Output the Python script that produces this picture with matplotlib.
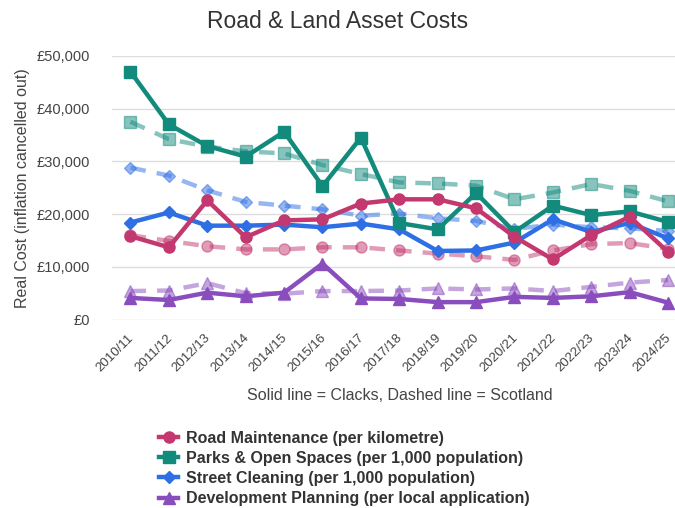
import matplotlib
matplotlib.use("Agg")
import matplotlib.pyplot as plt
from matplotlib.ticker import FuncFormatter
from matplotlib.lines import Line2D
from matplotlib.transforms import ScaledTranslation

plt.rcParams['font.family'] = ['Liberation Sans', 'DejaVu Sans']

years = ["2010/11", "2011/12", "2012/13", "2013/14", "2014/15", "2015/16", "2016/17",
         "2017/18", "2018/19", "2019/20", "2020/21", "2021/22", "2022/23", "2023/24", "2024/25"]

road_clacks = [15800, 13700, 22600, 15600, 18800, 19000, 22000, 22800, 22800, 21100, 15700, 11400, 16000, 19500, 12800]
road_scot = [16000, 14900, 13900, 13300, 13300, 13700, 13700, 13100, 12500, 12000, 11300, 13100, 14300, 14500, 13400]

parks_clacks = [47000, 37000, 32900, 30900, 35600, 25300, 34500, 18300, 17100, 24000, 16600, 21600, 19800, 20500, 18500]
parks_scot = [37500, 34200, 32800, 31900, 31500, 29300, 27600, 26000, 25800, 25400, 22800, 24100, 25700, 24400, 22400]

street_clacks = [18400, 20300, 17800, 17800, 18000, 17500, 18200, 17100, 13000, 13100, 14600, 19000, 16600, 18300, 15400]
street_scot = [28800, 27300, 24500, 22300, 21600, 20900, 19700, 20100, 19200, 18700, 17200, 18000, 17500, 17300, 16800]

dev_clacks = [4100, 3700, 5100, 4400, 5100, 10600, 4000, 3900, 3300, 3300, 4300, 4100, 4400, 5200, 3200]
dev_scot = [5400, 5500, 6900, 5000, 4900, 5400, 5400, 5500, 5900, 5700, 5900, 5400, 6200, 7000, 7500]

series_names = ["Road Maintenance (per kilometre)",
                "Parks & Open Spaces (per 1,000 population)",
                "Street Cleaning (per 1,000 population)",
                "Development Planning (per local application)"]
colors = ["#C2386F", "#128A7C", "#2F6FE4", "#8A4DBE"]
markers = ["o", "s", "D", "^"]
msizes = [8, 8, 6, 8]

clacks = [road_clacks, parks_clacks, street_clacks, dev_clacks]
scot = [road_scot, parks_scot, street_scot, dev_scot]

fig = plt.figure(figsize=(6.75, 5.08), dpi=100)
ax = fig.add_axes([0.166, 0.371, 0.834, 0.519])

x = list(range(len(years)))

for vals, c, m, ms in zip(scot, colors, markers, msizes):
    ax.plot(x, vals, color=c, lw=3.2, ls=(0, (3.5, 2.5)), marker=m, ms=ms,
            alpha=0.5, zorder=2, dash_capstyle='butt')

for i in [3, 2, 1, 0]:
    ax.plot(x, clacks[i], color=colors[i], lw=3.2, marker=markers[i], ms=msizes[i], zorder=3)

ax.set_ylim(0, 50000)
ax.set_xlim(-0.48, 14.18)
ax.set_yticks([0, 10000, 20000, 30000, 40000, 50000])
ax.yaxis.set_major_formatter(FuncFormatter(lambda v, p: "£{:,.0f}".format(v)))
ax.set_xticks(x)
ax.set_xticklabels(years, rotation=45, ha='right', rotation_mode='anchor')
ax.tick_params(axis='y', length=0, labelsize=10.5, colors='#444444', pad=16)
ax.tick_params(axis='x', length=0, labelsize=9.5, colors='#444444', pad=9)
offset = ScaledTranslation(-3 / 100, 0, fig.dpi_scale_trans)
for lab in ax.get_xticklabels():
    lab.set_transform(lab.get_transform() + offset)
ax.grid(axis='y', color='#dddddd', lw=1)
ax.set_axisbelow(True)
for s in ax.spines.values():
    s.set_visible(False)

ax.set_ylabel("Real Cost (inflation cancelled out)", fontsize=11.5, color='#444444', labelpad=5)
fig.text(0.5, 0.958, "Road & Land Asset Costs", ha='center', va='center', fontsize=16.5, color='#333333')
fig.text(0.593, 0.222, "Solid line = Clacks, Dashed line = Scotland", ha='center', va='center',
         fontsize=11.5, color='#444444')

handles = [Line2D([0], [0], color=c, lw=3.2, marker=m, ms=ms) for c, m, ms in zip(colors, markers, msizes)]
leg = fig.legend(handles, series_names, loc='upper left', bbox_to_anchor=(0.236, 0.152),
                 frameon=False, handlelength=1.2, handletextpad=0.5, labelspacing=0.32,
                 prop={'weight': 'bold', 'size': 11.5}, borderaxespad=0, borderpad=0)
for t in leg.get_texts():
    t.set_color('#333333')

fig.savefig("out.png", dpi=100)
